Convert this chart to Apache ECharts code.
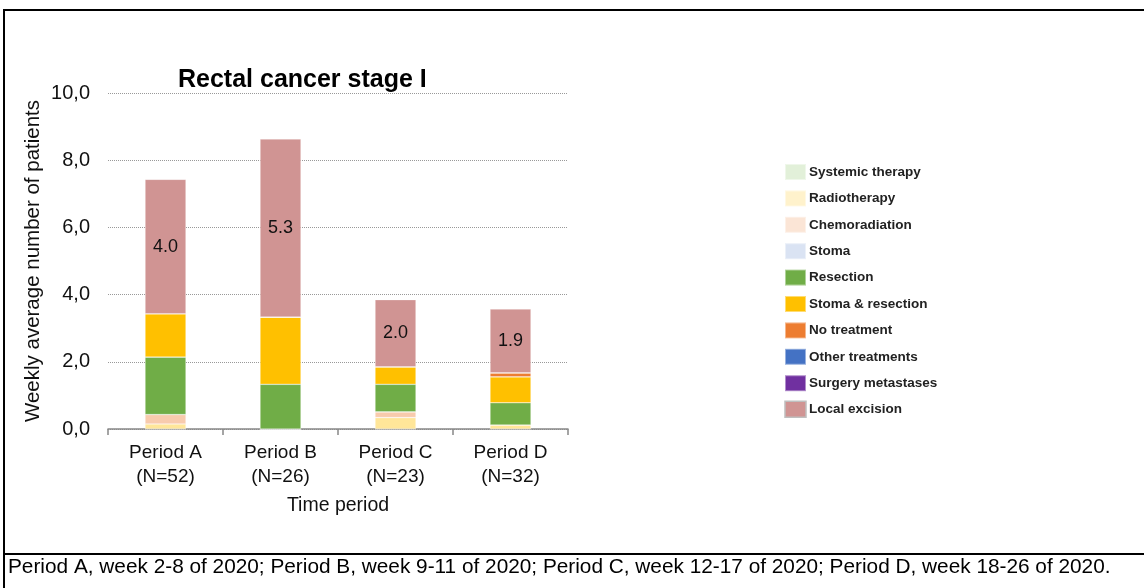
<!DOCTYPE html>
<html>
<head>
<meta charset="utf-8">
<script src="https://cdn.jsdelivr.net/npm/echarts@6/dist/echarts.min.js"></script>
<style>
  html, body { margin: 0; padding: 0; background: #fff; }
  #chart { width: 1144px; height: 588px; }
</style>
</head>
<body>
<div id="chart"></div>
<script>
// data (weekly average number of patients)
var periods = ['Period A\n(N=52)', 'Period B\n(N=26)', 'Period C\n(N=23)', 'Period D\n(N=32)'];
var systemicTherapy   = [0, 0, 0, 0];
var radiotherapy      = [0.15, 0, 0.34, 0.12];
var chemoradiation    = [0.28, 0, 0.17, 0];
var stoma             = [0, 0, 0, 0];
var resection         = [1.71, 1.33, 0.82, 0.66];
var stomaResection    = [1.29, 2.0, 0.52, 0.77];
var noTreatment       = [0, 0, 0, 0.12];
var otherTreatments   = [0, 0, 0, 0];
var surgeryMetastases = [0, 0, 0, 0];
var localExcision     = [4.0, 5.3, 2.0, 1.9];
var yTicks = [0, 2, 4, 6, 8, 10];

var names = ['Systemic therapy', 'Radiotherapy', 'Chemoradiation', 'Stoma', 'Resection',
  'Stoma & resection', 'No treatment', 'Other treatments', 'Surgery metastases', 'Local excision'];
var values = [systemicTherapy, radiotherapy, chemoradiation, stoma, resection,
  stomaResection, noTreatment, otherTreatments, surgeryMetastases, localExcision];
var barColors = ['#E2F0D9', '#FFE699', '#F8CBAD', '#DAE3F3', '#70AD47',
  '#FFC000', '#ED7D31', '#4472C4', '#7030A0', '#D09493'];
var legendColors = ['#E2F0D9', '#FFF2CC', '#FBE5D6', '#DAE3F3', '#70AD47',
  '#FFC000', '#ED7D31', '#4472C4', '#7030A0', '#D09493'];

var font = 'Arial, "Liberation Sans", sans-serif';

var series = names.map(function (n, i) {
  var s = {
    name: n,
    type: 'bar',
    stack: 'total',
    barWidth: 41,
    data: values[i],
    itemStyle: { color: barColors[i], borderColor: 'rgba(255,255,255,0.45)', borderWidth: 0.6 }
  };
  if (n === 'Local excision') {
    s.label = {
      show: true,
      position: 'inside',
      fontFamily: font,
      fontSize: 18,
      color: '#111',
      formatter: function (p) { return p.value.toFixed(1); }
    };
  }
  return s;
});

var chart = echarts.init(document.getElementById('chart'));
chart.setOption({
  animation: false,
  backgroundColor: '#fff',
  color: barColors,
  title: {
    text: 'Rectal cancer stage I',
    left: 173,
    top: 63,
    textStyle: { fontFamily: font, fontSize: 25, fontWeight: 'bold', color: '#000' }
  },
  legend: {
    orient: 'vertical',
    left: 779,
    top: 158,
    itemWidth: 21,
    itemHeight: 16,
    itemGap: 8.4,
    icon: 'rect',
    textStyle: { fontFamily: font, fontSize: 13.5, fontWeight: 'bold', color: '#222', padding: [0, 0, 0, -2] },
    data: names.map(function (n, i) {
      var d = { name: n, itemStyle: { color: legendColors[i] } };
      if (n === 'Local excision') { d.itemStyle.borderColor = '#BFBFBF'; d.itemStyle.borderWidth = 1.5; }
      return d;
    })
  },
  grid: { left: 108, right: 576, top: 93, bottom: 159 },
  xAxis: {
    type: 'category',
    data: periods,
    name: 'Time period',
    nameLocation: 'middle',
    nameGap: 67,
    nameTextStyle: { fontFamily: font, fontSize: 19.5, color: '#111' },
    axisLine: { lineStyle: { color: '#888', width: 1.5 } },
    axisTick: { show: true, length: 6, lineStyle: { color: '#888', width: 1.5 } },
    axisLabel: { fontFamily: font, fontSize: 19, color: '#111', lineHeight: 24, margin: 12 }
  },
  yAxis: {
    type: 'value',
    min: 0,
    max: 10,
    interval: 2,
    name: 'Weekly average number of patients',
    nameLocation: 'middle',
    nameGap: 64,
    nameTextStyle: { fontFamily: font, fontSize: 20.5, color: '#111' },
    axisLine: { show: false },
    axisTick: { show: false },
    axisLabel: {
      fontFamily: font, fontSize: 20, color: '#111', margin: 18,
      formatter: function (v) { return yTicks.indexOf(v) >= 0 ? v.toFixed(1).replace('.', ',') : ''; }
    },
    splitLine: { lineStyle: { color: '#999', type: [1, 1], width: 1 } }
  },
  graphic: [
    { type: 'rect', shape: { x: 4, y: 10, width: 1160, height: 544 }, style: { fill: 'none', stroke: '#000', lineWidth: 2 } },
    { type: 'line', shape: { x1: 4, y1: 554, x2: 4, y2: 600 }, style: { stroke: '#000', lineWidth: 2 } },
    { type: 'text', left: 8, top: 557, style: { text: 'Period A, week 2-8 of 2020; Period B, week 9-11 of 2020; Period C, week 12-17 of 2020; Period D, week 18-26 of 2020.', font: '20.8px Arial, "Liberation Sans", sans-serif', fill: '#000' } }
  ],
  series: series
});
</script>
</body>
</html>
